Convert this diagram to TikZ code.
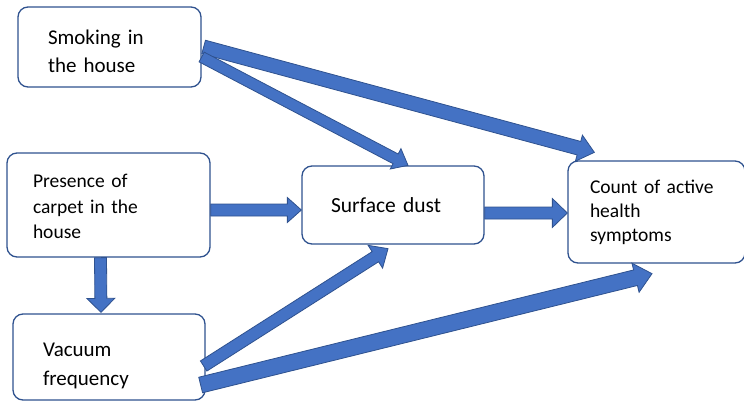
\documentclass[tikz,border=0pt]{standalone}
\usepackage{fontspec}
\setmainfont{Carlito}
\usetikzlibrary{calc}
\definecolor{arrowblue}{RGB}{68,114,196}
\definecolor{edgeblue}{RGB}{47,82,143}

% block arrow: start, tip, half shaft, half head, head length
\newcommand{\blockarrow}[5]{%
  \coordinate (ba-s) at (#1);
  \coordinate (ba-t) at (#2);
  \coordinate (ba-h) at ($(ba-t)!#5!(ba-s)$);
  \filldraw[arrowbody] ($(ba-s)!#3!90:(ba-t)$) -- ($(ba-h)!#3!-90:(ba-s)$)
    -- ($(ba-h)!#4!-90:(ba-s)$) -- (ba-t) -- ($(ba-h)!#4!90:(ba-s)$)
    -- ($(ba-h)!#3!90:(ba-s)$) -- ($(ba-s)!#3!-90:(ba-t)$) -- cycle;}

\begin{document}
\begin{tikzpicture}[x=1pt, y=-1pt,
  box/.style={draw=edgeblue, line width=1.3pt, rounded corners=10pt, fill=white,
              align=left, inner ysep=0pt},
  arrowbody/.style={fill=arrowblue, draw=edgeblue, line width=0.8pt, line join=miter}]
  \useasboundingbox (0,0) rectangle (744,402);
  \node[box, text width=123pt, inner xsep=30pt, minimum height=80pt,
        font=\fontsize{21}{28}\selectfont]
    (smoke) at (109.5,47) {\rule{0pt}{24pt}Smoking in\\the house};
  \node[box, text width=151pt, inner xsep=26pt, minimum height=104pt,
        font=\fontsize{19.5}{25.5}\selectfont]
    (carpet) at (108.5,205) {\rule{0pt}{17pt}Presence of\\carpet in the\\house};
  \node[box, text width=132pt, inner xsep=30pt, minimum height=86pt,
        font=\fontsize{21}{29}\selectfont]
    (vacuum) at (109,357) {\rule{0pt}{32pt}Vacuum\\frequency};
  \node[box, text width=124pt, inner xsep=29pt, minimum height=78pt,
        font=\fontsize{21.5}{27}\selectfont]
    (dust) at (393,205) {Surface dust};
  \node[box, text width=133pt, inner xsep=22pt, minimum height=102pt,
        font=\fontsize{19.5}{24}\selectfont]
    (health) at (656.5,212) {Count of active\\health\\symptoms};
  \blockarrow{$(smoke.east)+(2,0)$}{$(health.north west)+(27,-8)$}{7pt}{13.5pt}{16pt}
  \blockarrow{$(smoke.east)+(0,10)$}{$(dust.north)+(15,0)$}{5.5pt}{11.5pt}{14pt}
  \blockarrow{$(carpet.east)+(0,5)$}{$(dust.west)+(0,5)$}{6pt}{12.5pt}{14pt}
  \blockarrow{$(carpet.south)+(-8,0)$}{$(vacuum.north)+(-8,-1)$}{6pt}{14pt}{14pt}
  \blockarrow{$(dust.east)+(0,8)$}{$(health.west)+(0,1)$}{6pt}{14.5pt}{15pt}
  \blockarrow{$(vacuum.east)+(-2,9)$}{$(dust.south)+(-5,4)$}{6pt}{13.5pt}{15pt}
  \blockarrow{$(vacuum.east)+(-5,28)$}{$(health.south)+(-4.5,10)$}{8pt}{15pt}{17pt}
\end{tikzpicture}
\end{document}
